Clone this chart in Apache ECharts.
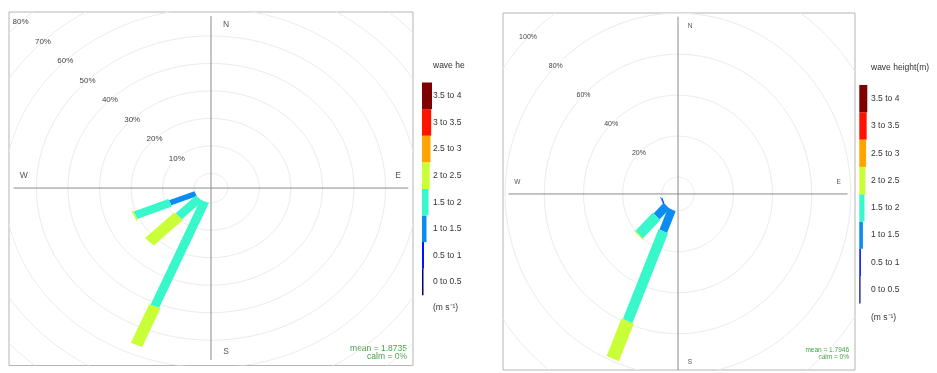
<!DOCTYPE html>
<html><head><meta charset="utf-8">
<script src="https://cdn.jsdelivr.net/npm/echarts@6/dist/echarts.min.js"></script>
<style>html,body{margin:0;padding:0;background:#fff}#c{width:937px;height:373px}</style>
</head><body><div id="c"></div>
<script>
// ---------------- data ----------------
const classLabels = ['0 to 0.5','0.5 to 1','1 to 1.5','1.5 to 2','2 to 2.5','2.5 to 3','3 to 3.5','3.5 to 4'];
const classColors = ['#00007F','#0012FF','#0A8CF0','#38F8CB','#C8FF36','#FFA400','#FF1200','#7F0000'];

// left panel: frequency (%) per wave-height class for each direction
const leftDirections = [247.5, 225, 202.5];
const leftWSW = [0, 0, 8.7, 11.9, 0.5, 0, 0, 0];
const leftSW  = [0, 0, 0, 9.2, 13.1, 0, 0, 0];
const leftSSW = [0, 0, 0, 41.2, 15.2, 0, 0, 0];
const leftRings = [0, 10, 20, 30, 40, 50, 60, 70, 80];
const leftOffset = 5.3;
const leftMean = 'mean = 1.8735';
const leftCalm = 'calm = 0%';
const leftKeyTitle = 'wave he';

// right panel
const rightDirections = [247.5, 225, 202.5];
const rightWSW = [0, 0.5, 0.3, 0, 0, 0, 0, 0];
const rightSW  = [0, 0, 7.3, 12.6, 0.5, 0, 0, 0];
const rightSSW = [0, 0, 11.5, 47.5, 19.8, 0, 0, 0];
const rightRings = [0, 20, 40, 60, 80, 100];
const rightOffset = 8.2;
const rightMean = 'mean = 1.7946';
const rightCalm = 'calm = 0%';
const rightKeyTitle = 'wave height(m)';

const keyFooter = '(m s\u207B\u00B9)';
const compassLabels = ['N', 'E', 'S', 'W'];
const compassAngles = [0, 90, 180, 270];

// ---------------- styles / layout ----------------
const FONT = 'Liberation Sans, Arial, sans-serif';
const panels = [
  { dirs: leftDirections, rows: [leftWSW, leftSW, leftSSW], rings: leftRings, off: leftOffset,
    hw: [0.25, 0.5, 0.98, 1.48, 1.94, 2.4, 2.8, 3.2],
    grid: { left: 9, top: 12, width: 404, height: 353.5 },
    x: [-64, 64], y: [-64.5, 64], axisR: 62.5, compassR: 59.3, compassOff: [15, 12],
    ringFont: 8, compassFont: 8.5, ringColor: '#ebebeb',
    mean: leftMean, calm: leftCalm, statX: 407, statY: [348.5, 357], statFont: 8.5,
    key: { x: 422, top: 82.5, h: 26.6, w: 10, labelX: 433, font: 8.5, title: leftKeyTitle, titleY: 66, footY: 308 } },
  { dirs: rightDirections, rows: [rightWSW, rightSW, rightSSW], rings: rightRings, off: rightOffset,
    hw: [0.7, 1.4, 2.1, 2.65, 3.4, 4.1, 4.8, 5.5],
    grid: { left: 503, top: 13, width: 352, height: 357 },
    x: [-89.3, 90.3], y: [-85.9, 88.3], axisR: 86.5, compassR: 82, compassOff: [12, 12],
    ringFont: 7, compassFont: 6.5, ringColor: '#ebebeb',
    mean: rightMean, calm: rightCalm, statX: 849, statY: [350, 357], statFont: 6.5,
    key: { x: 859.3, top: 85, h: 27.3, w: 8, labelX: 871, font: 8.5, title: rightKeyTitle, titleY: 68, footY: 318 } }
];
const keyWidthFrac = [0.15, 0.2, 0.45, 0.65, 0.77, 0.85, 0.92, 1];

const grids = [], xAxes = [], yAxes = [], series = [], graphics = [];

panels.forEach((P, pi) => {
  grids.push(Object.assign({ show: true, borderColor: '#b4b4b4', borderWidth: 1, backgroundColor: '#fff' }, P.grid));
  xAxes.push({ gridIndex: pi, type: 'value', min: P.x[0], max: P.x[1], show: false });
  yAxes.push({ gridIndex: pi, type: 'value', min: P.y[0], max: P.y[1], show: false });
  const base = { xAxisIndex: pi, yAxisIndex: pi, silent: true, animation: false };

  // grid rings
  series.push(Object.assign({}, base, {
    type: 'custom', clip: true, z: 1,
    data: P.rings.map(v => [v]),
    renderItem: (params, api) => {
      const r = P.off + api.value(0);
      const pts = [];
      for (let a = 0; a <= 360; a += 2) {
        const t = a * Math.PI / 180;
        pts.push(api.coord([r * Math.sin(t), r * Math.cos(t)]));
      }
      return { type: 'polyline', shape: { points: pts }, style: { stroke: P.ringColor, lineWidth: 1, fill: null } };
    }
  }));

  // cross axes
  series.push(Object.assign({}, base, {
    type: 'custom', clip: true, z: 2,
    data: [[0], [90]],
    renderItem: (params, api) => {
      const t = api.value(0) * Math.PI / 180;
      const R = P.axisR;
      const p1 = api.coord([-R * Math.sin(t), -R * Math.cos(t)]);
      const p2 = api.coord([R * Math.sin(t), R * Math.cos(t)]);
      return { type: 'line', shape: { x1: p1[0], y1: p1[1], x2: p2[0], y2: p2[1] }, style: { stroke: '#8a8a8a', lineWidth: 1 } };
    }
  }));

  // paddles
  series.push(Object.assign({}, base, {
    type: 'custom', clip: true, z: 3,
    data: P.dirs.map((d, i) => [d].concat(P.rows[i])),
    renderItem: (params, api) => {
      const th = api.value(0) * Math.PI / 180, s = Math.sin(th), c = Math.cos(th);
      let cum = 0; const children = [];
      for (let k = 0; k < 8; k++) {
        const f = api.value(k + 1);
        if (!(f > 0)) continue;
        const r1 = P.off + cum, r2 = P.off + cum + f; cum += f;
        const w = P.hw[k];
        const pts = [
          [r1 * s - w * c, r1 * c + w * s], [r2 * s - w * c, r2 * c + w * s],
          [r2 * s + w * c, r2 * c - w * s], [r1 * s + w * c, r1 * c - w * s]
        ].map(p => api.coord(p));
        children.push({ type: 'polygon', shape: { points: pts }, style: { fill: classColors[k] } });
      }
      return { type: 'group', children };
    }
  }));

  // ring labels
  series.push(Object.assign({}, base, {
    type: 'custom', clip: false, z: 4,
    data: P.rings.filter(v => v > 0).map(v => [v]),
    renderItem: (params, api) => {
      const v = api.value(0), r = P.off + v;
      const p = api.coord([-r * Math.SQRT1_2, r * Math.SQRT1_2]);
      return { type: 'text', x: p[0], y: p[1], style: { text: v + '%', fontSize: P.ringFont, fontFamily: FONT, fill: '#444', align: 'center', verticalAlign: 'middle' } };
    }
  }));

  // compass labels
  series.push(Object.assign({}, base, {
    type: 'custom', clip: false, z: 4,
    data: compassAngles.map((a, i) => [a, i]),
    renderItem: (params, api) => {
      const a = api.value(0), t = a * Math.PI / 180, R = P.compassR;
      const p = api.coord([R * Math.sin(t), R * Math.cos(t)]);
      let x = p[0], y = p[1];
      if (a === 0 || a === 180) x += P.compassOff[0]; else y -= P.compassOff[1];
      return { type: 'text', x, y, style: { text: compassLabels[api.value(1)], fontSize: P.compassFont, fontFamily: FONT, fill: '#555', align: 'center', verticalAlign: 'middle' } };
    }
  }));

  // stats text
  graphics.push({ type: 'text', x: P.statX, y: P.statY[0], style: { text: P.mean, fontSize: P.statFont, fontFamily: FONT, fill: '#46a046', align: 'right', verticalAlign: 'middle' } });
  graphics.push({ type: 'text', x: P.statX, y: P.statY[1], style: { text: P.calm, fontSize: P.statFont, fontFamily: FONT, fill: '#46a046', align: 'right', verticalAlign: 'middle' } });

  // key
  const K = P.key;
  classLabels.forEach((lab, k) => {
    const top = K.top + (7 - k) * K.h;
    graphics.push({ type: 'rect', shape: { x: K.x, y: top, width: K.w * keyWidthFrac[k], height: K.h }, style: { fill: classColors[k] } });
    graphics.push({ type: 'text', x: K.labelX, y: top + K.h / 2, style: { text: lab, fontSize: K.font, fontFamily: FONT, fill: '#333', align: 'left', verticalAlign: 'middle' } });
  });
  graphics.push({ type: 'text', x: K.labelX, y: K.titleY, style: { text: K.title, fontSize: K.font, fontFamily: FONT, fill: '#333', align: 'left', verticalAlign: 'middle' } });
  graphics.push({ type: 'text', x: K.labelX, y: K.footY, style: { text: keyFooter, fontSize: K.font, fontFamily: FONT, fill: '#333', align: 'left', verticalAlign: 'middle' } });
});

const chart = echarts.init(document.getElementById('c'), null, { renderer: 'canvas' });
chart.setOption({
  backgroundColor: '#fff',
  animation: false,
  grid: grids, xAxis: xAxes, yAxis: yAxes, series,
  graphic: graphics
});
</script></body></html>
